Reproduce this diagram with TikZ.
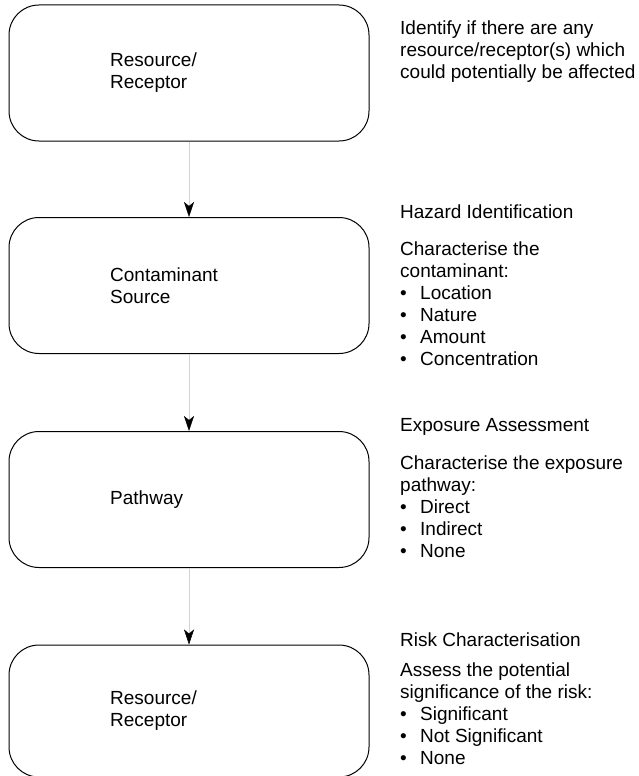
\documentclass[tikz,border=0pt]{standalone}
\usepackage{fontspec}
\setmainfont{Liberation Sans}
\usetikzlibrary{arrows.meta, positioning}
\definecolor{linkgray}{HTML}{D2D2D2}
\newcommand{\bulletitem}[1]{\makebox[20pt][l]{\textbullet}#1}

\begin{document}
\begin{tikzpicture}[x=1pt, y=-1pt,
    font=\fontsize{19}{22}\selectfont,
    stagebox/.style={draw, line width=1pt, rounded corners=30pt,
      minimum width=360pt, minimum height=136pt, inner sep=0pt},
    boxlabel/.style={anchor=west, align=left, inner sep=0pt},
    notehead/.style={anchor=base west, inner sep=0pt},
    notebody/.style={anchor=base west, align=left, inner sep=0pt},
    link/.style={draw=linkgray, line width=0.5pt,
      -{Stealth[length=15pt, width=10pt, inset=4pt, color=black]}}]
      \useasboundingbox (0,0) rectangle (638,776);

      % stages
      \node[stagebox] (resTop) at (189,73) {};
      \node[stagebox] (source) at (189,285.5) {};
      \node[stagebox] (pathway) at (189,499.5) {};
      \node[stagebox, minimum height=132pt] (resBottom) at (189,711) {};

      \node[boxlabel] (resTopText) at (110,73) {Resource/\\Receptor};
      \node[boxlabel] (sourceText) at (110,285.5) {Contaminant\\Source};
      \node[boxlabel] (pathwayText) at (110,499.5) {Pathway};
      \node[boxlabel] (resBottomText) at (110,711) {Resource/\\Receptor};

      % notes on the right (placed at the baseline of their last line)
      \node[notebody] (resTopNote) at (400,78)
        {Identify if there are any\\resource/receptor(s) which\\could potentially be affected};

      \node[notehead] (sourceHead) at (400,218) {Hazard Identification};
      \node[notebody] (sourceNote) at (400,365)
        {Characterise the\\contaminant:\\\bulletitem{Location}\\\bulletitem{Nature}\\
         \bulletitem{Amount}\\\bulletitem{Concentration}};

      \node[notehead] (pathwayHead) at (400,431) {Exposure Assessment};
      \node[notebody] (pathwayNote) at (400,557)
        {Characterise the exposure\\pathway:\\\bulletitem{Direct}\\\bulletitem{Indirect}\\
         \bulletitem{None}};

      \node[notehead] (resBottomHead) at (400,646) {Risk Characterisation};
      \node[notebody] (resBottomNote) at (400,764)
        {Assess the potential\\significance of the risk:\\\bulletitem{Significant}\\
         \bulletitem{Not Significant}\\\bulletitem{None}};

      % links
      \draw[link] (resTop) -- (source);
      \draw[link] (source) -- (pathway);
      \draw[link] (pathway) -- (resBottom);
    \end{tikzpicture}
\end{document}
